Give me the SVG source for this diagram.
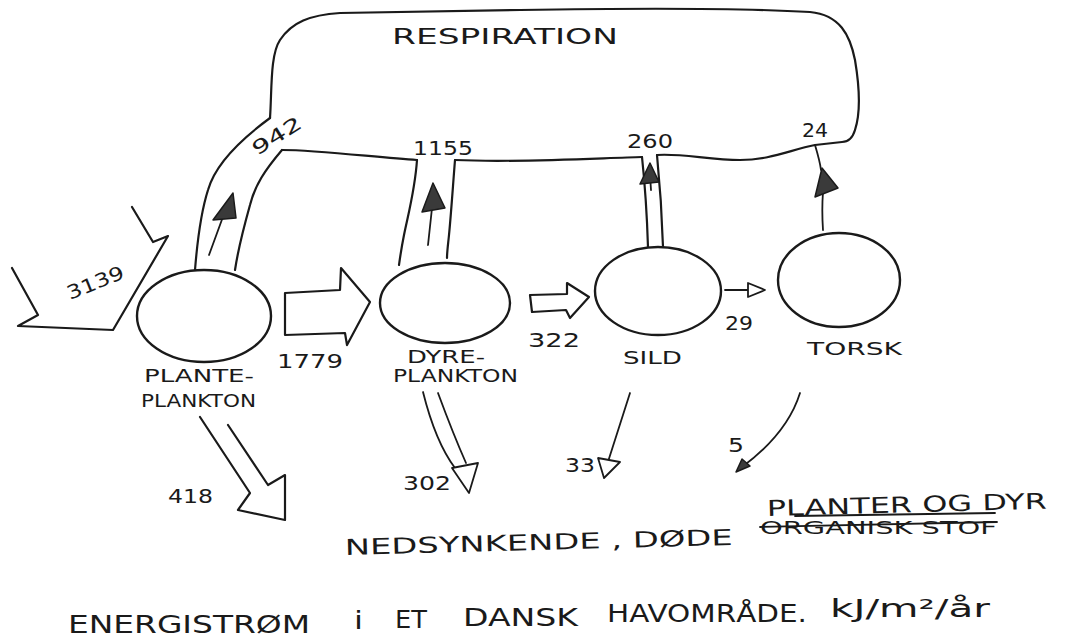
<svg xmlns="http://www.w3.org/2000/svg" width="1075" height="639" viewBox="0 0 1075 639">
<style>
.ln{fill:none;stroke:#1a1a1a;stroke-width:2.2;stroke-linecap:round;stroke-linejoin:round}
.thin{fill:none;stroke:#1a1a1a;stroke-width:1.8;stroke-linecap:round;stroke-linejoin:round}
.head{fill:#3a3a3a;stroke:#1a1a1a;stroke-width:1.5;stroke-linejoin:round}
.ohead{fill:#fff;stroke:#1a1a1a;stroke-width:1.8;stroke-linejoin:round}
.node{fill:#fff;stroke:#1a1a1a;stroke-width:2.4}
.t{font-family:"DejaVu Sans","Liberation Sans",sans-serif;fill:#1a1a1a;font-weight:normal}
.lbl{font-size:18px}
.num{font-size:19px}
.big{font-size:22px}
.cap{font-size:25px}
</style>
<rect width="1075" height="639" fill="#fff"/>

<g id="respiration">
<path class="ln" d="M270,118 C272,90 270,55 280,40 C292,22 310,15 340,13 L520,10 C640,8 740,8 810,12 C840,15 850,35 855,60 C860,90 860,115 855,130 C852,140 846,142 842,142 L815,145 C790,150 770,160 740,160 C710,160 680,153 657,155"/>
<path class="ln" d="M642,157 C600,158 520,163 455,160"/>
<path class="ln" d="M417,160 C380,158 320,150 282,150"/>
<text class="t big" x="392" y="44" textLength="226" lengthAdjust="spacingAndGlyphs">RESPIRATION</text>
</g>

<g id="planteplankton">
<ellipse class="node" cx="204" cy="316" rx="67" ry="46"/>
<text class="t lbl" x="144" y="382" textLength="110" lengthAdjust="spacingAndGlyphs">PLANTE-</text>
<text class="t lbl" x="141" y="407" textLength="115" lengthAdjust="spacingAndGlyphs">PLANKTON</text>
</g>

<g id="dyreplankton">
<ellipse class="node" cx="445" cy="303" rx="65" ry="40"/>
<text class="t lbl" x="407" y="363" textLength="78" lengthAdjust="spacingAndGlyphs">DYRE-</text>
<text class="t lbl" x="393" y="382" textLength="125" lengthAdjust="spacingAndGlyphs">PLANKTON</text>
</g>

<g id="sild">
<ellipse class="node" cx="658" cy="291" rx="63" ry="44"/>
<text class="t lbl" x="623" y="364" textLength="59" lengthAdjust="spacingAndGlyphs">SILD</text>
</g>

<g id="torsk">
<ellipse class="node" cx="839" cy="280" rx="61" ry="47"/>
<text class="t lbl" x="807" y="355" textLength="95" lengthAdjust="spacingAndGlyphs">TORSK</text>
</g>

<g id="connectors">
<polyline class="ln" points="12,268 38,315 18,326 113,330 168,236 153,242 132,207"/>
<text class="t num" x="0" y="0" transform="translate(70,300) rotate(-22)" textLength="60" lengthAdjust="spacingAndGlyphs">3139</text>

<path class="ln" d="M270,118 C240,140 215,165 208,190 C200,215 197,245 195,270"/>
<path class="ln" d="M282,150 C265,170 255,185 250,205 C243,230 238,250 235,270"/>
<path class="thin" d="M209,255 L224,214"/>
<polygon class="head" points="233,193 213,220 236,218"/>
<text class="t num" x="0" y="0" transform="translate(257,156) rotate(-32)" textLength="55" lengthAdjust="spacingAndGlyphs">942</text>

<path class="ln" d="M417,160 C415,190 408,215 404,235 C401,250 400,258 399,265"/>
<path class="ln" d="M455,160 C453,185 451,215 449,235 C448,245 447,252 447,258"/>
<path class="thin" d="M428,245 L432,208"/>
<polygon class="head" points="433,183 422,212 445,208"/>
<text class="t num" x="413" y="155" textLength="60" lengthAdjust="spacingAndGlyphs">1155</text>

<path class="ln" d="M642,157 C645,185 647,215 648,247"/>
<path class="ln" d="M657,155 C660,185 662,215 663,247"/>
<path class="thin" d="M651,190 L650,175"/>
<polygon class="head" points="650,163 640,184 659,182"/>
<text class="t num" x="627" y="148" textLength="46" lengthAdjust="spacingAndGlyphs">260</text>

<path class="thin" d="M815,145 C818,155 820,162 821,170"/>
<path class="thin" d="M823,230 C822,215 822,205 823,192"/>
<polygon class="head" points="822,168 815,197 838,188"/>
<text class="t num" x="802" y="137" textLength="26" lengthAdjust="spacingAndGlyphs">24</text>

<polygon class="ln" points="285,293 340,290 341,268 370,302 347,345 345,333 285,335"/>
<text class="t num" x="277" y="368" textLength="66" lengthAdjust="spacingAndGlyphs">1779</text>

<polygon class="ln" points="530,295 567,294 567,283 589,297 570,318 566,310 532,312"/>
<text class="t num" x="528" y="347" textLength="52" lengthAdjust="spacingAndGlyphs">322</text>

<path class="thin" d="M725,290 L750,290"/>
<polygon class="ohead" points="748,283 765,290 748,297"/>
<text class="t num" x="725" y="330" textLength="28" lengthAdjust="spacingAndGlyphs">29</text>

<polyline class="ln" points="200,417 250,493 238,510 285,520 285,475 268,485 228,425"/>
<text class="t num" x="168" y="503" textLength="45" lengthAdjust="spacingAndGlyphs">418</text>

<path class="thin" d="M423,392 C430,420 440,448 455,468"/>
<path class="thin" d="M438,393 C448,420 458,445 466,463"/>
<polygon class="ohead" points="452,468 478,463 469,493"/>
<text class="t num" x="403" y="490" textLength="48" lengthAdjust="spacingAndGlyphs">302</text>

<path class="thin" d="M630,393 L606,468"/>
<polygon class="ohead" points="598,458 620,462 604,478"/>
<text class="t num" x="565" y="472" textLength="30" lengthAdjust="spacingAndGlyphs">33</text>

<path class="thin" d="M800,393 C790,425 765,450 742,467"/>
<polygon class="head" points="736,472 742,459 750,466"/>
<text class="t num" x="728" y="452" textLength="16" lengthAdjust="spacingAndGlyphs">5</text>
</g>

<g id="caption">
<text class="t big" x="345" y="555" textLength="388" lengthAdjust="spacingAndGlyphs" transform="rotate(-1.5 345 555)">NEDSYNKENDE , DØDE</text>
<text class="t lbl" x="760" y="534" textLength="237" lengthAdjust="spacingAndGlyphs">ORGANISK STOF</text>
<path class="thin" d="M760,527 L997,522"/>
<path class="thin" d="M795,516 L995,513"/>
<text class="t big" x="767" y="516" textLength="280" lengthAdjust="spacingAndGlyphs" transform="rotate(-1.5 767 516)">PLANTER  OG  DYR</text>
<text class="t cap" x="68" y="633" textLength="242" lengthAdjust="spacingAndGlyphs">ENERGISTRØM</text>
<text class="t cap" x="354" y="629" textLength="9" lengthAdjust="spacingAndGlyphs">i</text>
<text class="t cap" x="395" y="628" textLength="32" lengthAdjust="spacingAndGlyphs">ET</text>
<text class="t cap" x="463" y="626" textLength="115" lengthAdjust="spacingAndGlyphs">DANSK</text>
<text class="t cap" x="607" y="622" textLength="200" lengthAdjust="spacingAndGlyphs">HAVOMRÅDE.</text>
<text class="t cap" x="830" y="617" textLength="160" lengthAdjust="spacingAndGlyphs">kJ/m²/år</text>
</g>
</svg>
